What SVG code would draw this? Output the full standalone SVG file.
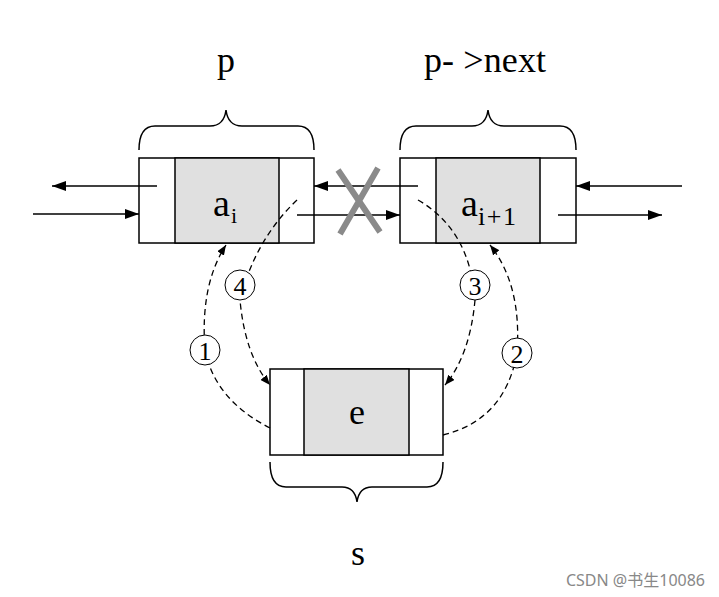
<svg xmlns="http://www.w3.org/2000/svg" width="719" height="597" viewBox="0 0 719 597">
<style>
.box{fill:#fff;stroke:#000;stroke-width:1.5}
.data{fill:#e0e0e0;stroke:#000;stroke-width:1.5}
.ln{stroke:#000;stroke-width:1.5;fill:none}
.d{stroke:#000;stroke-width:1.3;fill:none;stroke-dasharray:6,4}
.t{font-family:'Liberation Serif','DejaVu Serif','Times New Roman',serif;fill:#000}
.c{fill:#fff;stroke:#000;stroke-width:1}
</style>
<defs><marker id="a" markerWidth="10" markerHeight="8" refX="10" refY="4" orient="auto" markerUnits="userSpaceOnUse"><path d="M0,0L10,4L0,8z"/></marker>
<marker id="b" markerWidth="14" markerHeight="10" refX="14" refY="5" orient="auto" markerUnits="userSpaceOnUse"><path d="M0,0L14,5L0,10z"/></marker></defs>
<rect width="719" height="597" fill="#fff"/>
<g id="nodeP"><rect class="box" x="139" y="158" width="175" height="85"/><rect class="data" x="175" y="158" width="104" height="85"/>
<text class="t" x="213" y="216" font-size="38">a</text><text class="t" x="231" y="223" font-size="22">i</text></g>
<g id="nodeN"><rect class="box" x="400" y="158" width="176" height="85"/><rect class="data" x="436" y="158" width="104" height="85"/>
<text class="t" x="461" y="216" font-size="38">a</text><text class="t" x="478" y="225" font-size="26" textLength="38">i+1</text></g>
<g id="nodeS"><rect class="box" x="270" y="369" width="173" height="86"/><rect class="data" x="304" y="369" width="105" height="86"/>
<text class="t" x="357" y="424" font-size="36" text-anchor="middle">e</text></g>
<g id="labels">
<path class="ln" d="M139,150 Q139,126 155,126 L210,126 Q224,126 226,110 Q228,126 242,126 L298,126 Q314,126 314,150"/>
<path class="ln" d="M400,150 Q400,126 416,126 L472,126 Q486,126 488,110 Q490,126 504,126 L560,126 Q576,126 576,150"/>
<path class="ln" d="M270,462 Q270,487 286,487 L342,487 Q355,487 357,502 Q359,487 372,487 L427,487 Q443,487 443,462"/>
<text class="t" x="226" y="72" font-size="36" text-anchor="middle">p</text>
<text class="t" x="485" y="72" font-size="36" text-anchor="middle" textLength="122">p- &gt;next</text>
<text class="t" x="358" y="565" font-size="36" text-anchor="middle">s</text>
<text x="705" y="586" font-size="16" text-anchor="end" fill="#888" font-family="'Noto Sans','Noto Sans CJK SC',sans-serif">CSDN @书生10086</text>
</g>
<g id="connectors">
<line class="ln" x1="157" y1="186" x2="52" y2="186" marker-end="url(#b)"/>
<line class="ln" x1="33" y1="214" x2="139" y2="214" marker-end="url(#b)"/>
<line class="ln" x1="418" y1="186" x2="314" y2="186" marker-end="url(#b)"/>
<line class="ln" x1="297" y1="215" x2="400" y2="215" marker-end="url(#b)"/>
<line class="ln" x1="682" y1="186" x2="576" y2="186" marker-end="url(#b)"/>
<line class="ln" x1="558" y1="215" x2="662" y2="215" marker-end="url(#b)"/>
<path d="M338,170 L380,232 M378,168 L340,234" stroke="#8a8a8a" stroke-width="6" fill="none"/>
<path class="d" d="M270,428 Q215,400 205,350 Q200,285 226,245" marker-end="url(#a)"/>
<path class="d" d="M297,200 Q255,240 240,300 Q245,355 270,385" marker-end="url(#a)"/>
<path class="d" d="M418,200 Q470,230 475,300 Q470,355 445,385" marker-end="url(#a)"/>
<path class="d" d="M443,435 Q505,420 517,353 Q522,285 490,245" marker-end="url(#a)"/>
<circle class="c" cx="205" cy="350" r="15"/><text class="t" x="205" y="360" font-size="26" text-anchor="middle">1</text>
<circle class="c" cx="240" cy="285" r="15"/><text class="t" x="240" y="295" font-size="26" text-anchor="middle">4</text>
<circle class="c" cx="475" cy="285" r="15"/><text class="t" x="475" y="295" font-size="26" text-anchor="middle">3</text>
<circle class="c" cx="517" cy="353" r="15"/><text class="t" x="517" y="363" font-size="26" text-anchor="middle">2</text>
</g>
</svg>
